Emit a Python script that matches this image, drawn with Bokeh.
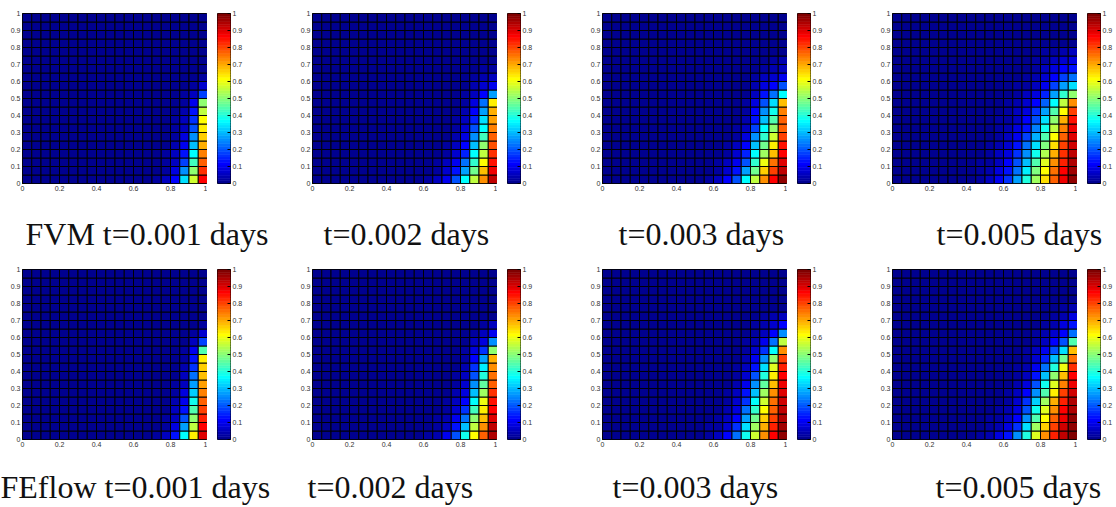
import numpy as np
from bokeh.plotting import figure
from bokeh.layouts import column, row
from bokeh.models import (LinearColorMapper, FixedTicker, ColumnDataSource,
                          CustomJSTickFormatter)
from bokeh.core.properties import value
from bokeh.embed import file_html
from bokeh.resources import INLINE

# ---------------------------------------------------------------------------
# Concentration on a 20 x 20 grid over the unit square.
# Each table lists rows from y = 0 upwards; every row holds the values of the
# right-most cells (ending at x = 1).  Cells not listed are zero.
# ---------------------------------------------------------------------------
N_CELLS = 20
X_TICKS = [0, 0.2, 0.4, 0.6, 0.8, 1]
Y_TICKS = [0, 0.1, 0.2, 0.3, 0.4, 0.5, 0.6, 0.7, 0.8, 0.9, 1]
CBAR_TICKS = [0, 0.1, 0.2, 0.3, 0.4, 0.5, 0.6, 0.7, 0.8, 0.9, 1]

fvm_t001 = [
    [0.02, 0.05, 0.12, 0.33, 0.57, 0.87],
    [0.01, 0.03, 0.08, 0.25, 0.50, 0.82],
    [0.00, 0.02, 0.06, 0.18, 0.43, 0.78],
    [0.00, 0.02, 0.05, 0.13, 0.37, 0.74],
    [0.00, 0.01, 0.04, 0.10, 0.31, 0.70],
    [0.00, 0.01, 0.03, 0.08, 0.25, 0.67],
    [0.00, 0.00, 0.02, 0.06, 0.20, 0.64],
    [0.00, 0.00, 0.02, 0.05, 0.16, 0.61],
    [0.00, 0.00, 0.01, 0.04, 0.13, 0.56],
    [0.00, 0.00, 0.01, 0.03, 0.10, 0.51],
    [0.00, 0.00, 0.00, 0.02, 0.05, 0.18],
    [0.00, 0.00, 0.00, 0.01, 0.02, 0.07],
    [0.00, 0.00, 0.00, 0.00, 0.01, 0.03],
]

fvm_t002 = [
    [0.02, 0.05, 0.10, 0.20, 0.36, 0.55, 0.73, 0.93],
    [0.01, 0.03, 0.07, 0.14, 0.28, 0.47, 0.68, 0.88],
    [0.00, 0.02, 0.05, 0.10, 0.22, 0.42, 0.62, 0.85],
    [0.00, 0.01, 0.03, 0.07, 0.15, 0.36, 0.55, 0.82],
    [0.00, 0.00, 0.02, 0.05, 0.12, 0.30, 0.50, 0.79],
    [0.00, 0.00, 0.01, 0.04, 0.09, 0.25, 0.43, 0.77],
    [0.00, 0.00, 0.01, 0.03, 0.07, 0.20, 0.37, 0.74],
    [0.00, 0.00, 0.00, 0.02, 0.05, 0.15, 0.33, 0.71],
    [0.00, 0.00, 0.00, 0.01, 0.04, 0.12, 0.28, 0.69],
    [0.00, 0.00, 0.00, 0.01, 0.03, 0.09, 0.22, 0.63],
    [0.00, 0.00, 0.00, 0.00, 0.02, 0.06, 0.12, 0.27],
    [0.00, 0.00, 0.00, 0.00, 0.01, 0.04, 0.07, 0.10],
    [0.00, 0.00, 0.00, 0.00, 0.00, 0.02, 0.04, 0.05],
    [0.00, 0.00, 0.00, 0.00, 0.00, 0.01, 0.02, 0.03],
]

fvm_t003 = [
    [0.02, 0.05, 0.12, 0.20, 0.36, 0.55, 0.73, 0.86, 0.97],
    [0.01, 0.03, 0.07, 0.14, 0.28, 0.48, 0.66, 0.80, 0.93],
    [0.00, 0.02, 0.05, 0.10, 0.20, 0.42, 0.60, 0.75, 0.90],
    [0.00, 0.01, 0.03, 0.07, 0.15, 0.36, 0.53, 0.68, 0.87],
    [0.00, 0.00, 0.02, 0.05, 0.11, 0.30, 0.47, 0.63, 0.85],
    [0.00, 0.00, 0.01, 0.03, 0.08, 0.25, 0.42, 0.57, 0.81],
    [0.00, 0.00, 0.00, 0.02, 0.06, 0.18, 0.36, 0.50, 0.78],
    [0.00, 0.00, 0.00, 0.01, 0.04, 0.14, 0.30, 0.44, 0.77],
    [0.00, 0.00, 0.00, 0.00, 0.03, 0.11, 0.25, 0.38, 0.74],
    [0.00, 0.00, 0.00, 0.00, 0.02, 0.09, 0.20, 0.33, 0.68],
    [0.00, 0.00, 0.00, 0.00, 0.01, 0.06, 0.13, 0.22, 0.37],
    [0.00, 0.00, 0.00, 0.00, 0.00, 0.04, 0.08, 0.12, 0.20],
    [0.00, 0.00, 0.00, 0.00, 0.00, 0.02, 0.05, 0.07, 0.10],
    [0.00, 0.00, 0.00, 0.00, 0.00, 0.01, 0.03, 0.04, 0.06],
    [0.00, 0.00, 0.00, 0.00, 0.00, 0.00, 0.01, 0.02, 0.04],
]

fvm_t005 = [
    [0.03, 0.05, 0.10, 0.17, 0.27, 0.40, 0.53, 0.65, 0.77, 0.88, 0.97],
    [0.02, 0.04, 0.08, 0.14, 0.23, 0.35, 0.49, 0.62, 0.75, 0.86, 0.96],
    [0.02, 0.03, 0.06, 0.11, 0.19, 0.30, 0.44, 0.58, 0.72, 0.84, 0.95],
    [0.01, 0.03, 0.05, 0.09, 0.16, 0.26, 0.39, 0.54, 0.69, 0.82, 0.93],
    [0.00, 0.02, 0.04, 0.07, 0.13, 0.22, 0.34, 0.49, 0.65, 0.80, 0.92],
    [0.00, 0.01, 0.03, 0.06, 0.10, 0.18, 0.29, 0.44, 0.61, 0.77, 0.90],
    [0.00, 0.01, 0.02, 0.04, 0.08, 0.14, 0.24, 0.39, 0.56, 0.74, 0.88],
    [0.00, 0.00, 0.02, 0.03, 0.06, 0.11, 0.20, 0.33, 0.50, 0.69, 0.85],
    [0.00, 0.00, 0.01, 0.02, 0.05, 0.09, 0.16, 0.27, 0.44, 0.62, 0.81],
    [0.00, 0.00, 0.00, 0.02, 0.04, 0.07, 0.12, 0.21, 0.36, 0.55, 0.73],
    [0.00, 0.00, 0.00, 0.01, 0.03, 0.05, 0.09, 0.15, 0.27, 0.42, 0.50],
    [0.00, 0.00, 0.00, 0.00, 0.02, 0.03, 0.06, 0.10, 0.18, 0.28, 0.33],
    [0.00, 0.00, 0.00, 0.00, 0.01, 0.02, 0.04, 0.07, 0.12, 0.18, 0.22],
    [0.00, 0.00, 0.00, 0.00, 0.00, 0.01, 0.03, 0.05, 0.08, 0.11, 0.13],
    [0.00, 0.00, 0.00, 0.00, 0.00, 0.00, 0.02, 0.03, 0.05, 0.07, 0.08],
    [0.00, 0.00, 0.00, 0.00, 0.00, 0.00, 0.01, 0.02, 0.03, 0.04, 0.05],
]

feflow_t001 = [
    [0.02, 0.05, 0.13, 0.37, 0.64, 0.90],
    [0.01, 0.03, 0.09, 0.27, 0.56, 0.87],
    [0.00, 0.02, 0.06, 0.20, 0.50, 0.84],
    [0.00, 0.01, 0.05, 0.14, 0.44, 0.80],
    [0.00, 0.01, 0.04, 0.10, 0.38, 0.77],
    [0.00, 0.00, 0.03, 0.08, 0.32, 0.74],
    [0.00, 0.00, 0.02, 0.06, 0.27, 0.71],
    [0.00, 0.00, 0.01, 0.05, 0.22, 0.68],
    [0.00, 0.00, 0.01, 0.04, 0.17, 0.66],
    [0.00, 0.00, 0.00, 0.03, 0.13, 0.64],
    [0.00, 0.00, 0.00, 0.02, 0.10, 0.45],
    [0.00, 0.00, 0.00, 0.01, 0.05, 0.18],
    [0.00, 0.00, 0.00, 0.00, 0.03, 0.07],
    [0.00, 0.00, 0.00, 0.00, 0.01, 0.03],
]

feflow_t002 = [
    [0.02, 0.04, 0.10, 0.20, 0.38, 0.62, 0.77, 0.95],
    [0.01, 0.03, 0.06, 0.13, 0.30, 0.55, 0.73, 0.93],
    [0.00, 0.02, 0.04, 0.10, 0.22, 0.50, 0.68, 0.90],
    [0.00, 0.01, 0.03, 0.07, 0.16, 0.43, 0.64, 0.87],
    [0.00, 0.00, 0.02, 0.05, 0.12, 0.37, 0.60, 0.85],
    [0.00, 0.00, 0.01, 0.04, 0.09, 0.30, 0.53, 0.82],
    [0.00, 0.00, 0.01, 0.03, 0.07, 0.25, 0.46, 0.78],
    [0.00, 0.00, 0.00, 0.02, 0.05, 0.20, 0.40, 0.76],
    [0.00, 0.00, 0.00, 0.01, 0.04, 0.16, 0.35, 0.73],
    [0.00, 0.00, 0.00, 0.01, 0.03, 0.12, 0.27, 0.70],
    [0.00, 0.00, 0.00, 0.00, 0.02, 0.08, 0.16, 0.50],
    [0.00, 0.00, 0.00, 0.00, 0.01, 0.05, 0.08, 0.25],
    [0.00, 0.00, 0.00, 0.00, 0.00, 0.03, 0.05, 0.10],
    [0.00, 0.00, 0.00, 0.00, 0.00, 0.01, 0.03, 0.05],
]

feflow_t003 = [
    [0.03, 0.05, 0.11, 0.22, 0.38, 0.57, 0.73, 0.87, 0.98],
    [0.02, 0.03, 0.07, 0.16, 0.33, 0.52, 0.70, 0.84, 0.96],
    [0.01, 0.02, 0.05, 0.12, 0.27, 0.47, 0.66, 0.81, 0.95],
    [0.00, 0.01, 0.04, 0.09, 0.22, 0.42, 0.62, 0.78, 0.93],
    [0.00, 0.00, 0.03, 0.07, 0.17, 0.36, 0.57, 0.75, 0.92],
    [0.00, 0.00, 0.02, 0.05, 0.13, 0.30, 0.52, 0.72, 0.90],
    [0.00, 0.00, 0.01, 0.04, 0.10, 0.25, 0.46, 0.68, 0.88],
    [0.00, 0.00, 0.00, 0.03, 0.07, 0.19, 0.40, 0.64, 0.86],
    [0.00, 0.00, 0.00, 0.02, 0.05, 0.14, 0.33, 0.58, 0.84],
    [0.00, 0.00, 0.00, 0.01, 0.04, 0.10, 0.25, 0.50, 0.80],
    [0.00, 0.00, 0.00, 0.00, 0.03, 0.07, 0.17, 0.37, 0.72],
    [0.00, 0.00, 0.00, 0.00, 0.02, 0.04, 0.10, 0.22, 0.55],
    [0.00, 0.00, 0.00, 0.00, 0.01, 0.03, 0.06, 0.12, 0.25],
    [0.00, 0.00, 0.00, 0.00, 0.00, 0.02, 0.04, 0.07, 0.12],
    [0.00, 0.00, 0.00, 0.00, 0.00, 0.01, 0.02, 0.04, 0.05],
]

feflow_t005 = [
    [0.02, 0.04, 0.08, 0.14, 0.26, 0.40, 0.58, 0.72, 0.83, 0.93, 0.99],
    [0.01, 0.03, 0.04, 0.08, 0.17, 0.33, 0.52, 0.67, 0.80, 0.91, 0.98],
    [0.00, 0.02, 0.03, 0.05, 0.12, 0.26, 0.45, 0.62, 0.77, 0.89, 0.97],
    [0.00, 0.01, 0.02, 0.04, 0.09, 0.20, 0.39, 0.58, 0.73, 0.87, 0.95],
    [0.00, 0.00, 0.01, 0.03, 0.07, 0.16, 0.32, 0.52, 0.69, 0.84, 0.94],
    [0.00, 0.00, 0.01, 0.02, 0.05, 0.12, 0.26, 0.45, 0.64, 0.80, 0.92],
    [0.00, 0.00, 0.00, 0.01, 0.04, 0.09, 0.20, 0.38, 0.58, 0.74, 0.89],
    [0.00, 0.00, 0.00, 0.01, 0.03, 0.06, 0.14, 0.30, 0.50, 0.68, 0.86],
    [0.00, 0.00, 0.00, 0.00, 0.02, 0.04, 0.10, 0.22, 0.40, 0.60, 0.82],
    [0.00, 0.00, 0.00, 0.00, 0.01, 0.03, 0.07, 0.15, 0.30, 0.47, 0.75],
    [0.00, 0.00, 0.00, 0.00, 0.00, 0.02, 0.05, 0.10, 0.20, 0.33, 0.68],
    [0.00, 0.00, 0.00, 0.00, 0.00, 0.01, 0.03, 0.06, 0.12, 0.20, 0.45],
    [0.00, 0.00, 0.00, 0.00, 0.00, 0.00, 0.02, 0.04, 0.07, 0.12, 0.22],
    [0.00, 0.00, 0.00, 0.00, 0.00, 0.00, 0.01, 0.02, 0.04, 0.08, 0.13],
    [0.00, 0.00, 0.00, 0.00, 0.00, 0.00, 0.00, 0.01, 0.02, 0.04, 0.08],
    [0.00, 0.00, 0.00, 0.00, 0.00, 0.00, 0.00, 0.00, 0.01, 0.02, 0.04],
]

TOP_TABLES = [fvm_t001, fvm_t002, fvm_t003, fvm_t005]
BOTTOM_TABLES = [feflow_t001, feflow_t002, feflow_t003, feflow_t005]
TOP_CAPTIONS = ["FVM t=0.001 days", "t=0.002 days", "t=0.003 days", "t=0.005 days"]
BOTTOM_CAPTIONS = ["FEflow t=0.001 days", "t=0.002 days", "t=0.003 days", "t=0.005 days"]


def jet_palette(m=64):
    """MATLAB-style jet colormap with m entries."""
    n = int(np.ceil(m / 4))
    u = np.concatenate([np.arange(1, n + 1) / n, np.ones(n - 1), np.arange(n, 0, -1) / n])
    g = int(np.ceil(n / 2)) - (1 if m % 4 == 1 else 0) + np.arange(1, len(u) + 1)
    rgb = np.zeros((m, 3))
    for ch, idx in enumerate((g + n, g, g - n)):
        ok = (idx >= 1) & (idx <= m)
        rgb[idx[ok] - 1, ch] = u[ok]
    return ["#%02x%02x%02x" % tuple(int(round(c * 255)) for c in r) for r in rgb]


JET = jet_palette(64)
mapper = LinearColorMapper(palette=JET, low=0, high=1)
tick_fmt = CustomJSTickFormatter(code="return String(Math.round(tick * 10) / 10);")

# layout (pixels)
FRAME_W, FRAME_H = 185, 170
BORDER_LEFT, BORDER_TOP, BORDER_BOTTOM = 22, 13, 17
CBAR_GAP, CBAR_W = 10, 13
COL_WIDTHS = [290, 290, 290, 246]
CAPTION_STRIP_H = [56, 51]
CAPTION_FONT_PX = 32
# vertical anchor of the caption text ("middle") inside each strip
CAPTION_MID_Y = [33, 30]
TOP_CAPTION_LEFT = [25, 323, 618, 936]
BOTTOM_CAPTION_LEFT = [0, 307, 612, 935]
PAGE_W = sum(COL_WIDTHS)
LABEL_FONT = "Liberation Sans"
CAPTION_FONT = "Liberation Serif"


def style_axis(ax):
    ax.formatter = tick_fmt
    ax.axis_line_color = None
    ax.major_tick_in = 3
    ax.major_tick_out = 0
    ax.major_tick_line_color = "black"
    ax.minor_tick_line_color = None
    ax.major_label_text_font = LABEL_FONT
    ax.major_label_text_font_size = "7px"
    ax.major_label_text_color = "#333333"
    ax.major_label_standoff = 2


def grid_source(table):
    grid = np.zeros((N_CELLS, N_CELLS))
    for j, vals in enumerate(table):
        grid[j, N_CELLS - len(vals):] = vals
    edges = np.linspace(0, 1, N_CELLS + 1)
    jj, ii = np.meshgrid(np.arange(N_CELLS), np.arange(N_CELLS), indexing="ij")
    jj, ii = jj.ravel(), ii.ravel()
    return ColumnDataSource(dict(left=edges[ii], right=edges[ii + 1],
                                 bottom=edges[jj], top=edges[jj + 1],
                                 c=grid.ravel()))


def heatmap(table):
    p = figure(frame_width=FRAME_W, frame_height=FRAME_H,
               x_range=(0, 1), y_range=(0, 1),
               min_border_left=BORDER_LEFT, min_border_top=BORDER_TOP,
               min_border_right=0, min_border_bottom=BORDER_BOTTOM,
               output_backend="svg", toolbar_location=None,
               background_fill_color="white", border_fill_color="white")
    p.quad(left="left", right="right", bottom="bottom", top="top",
           source=grid_source(table),
           fill_color={"field": "c", "transform": mapper},
           line_color="black", line_width=1, line_alpha=0.95)
    p.grid.visible = False
    p.outline_line_color = "black"
    p.outline_line_width = 1
    p.xaxis.ticker = FixedTicker(ticks=X_TICKS)
    p.yaxis.ticker = FixedTicker(ticks=Y_TICKS)
    style_axis(p.xaxis[0])
    style_axis(p.yaxis[0])
    return p


def colorbar(total_w):
    right = total_w - BORDER_LEFT - FRAME_W - CBAR_GAP - CBAR_W
    p = figure(frame_width=CBAR_W, frame_height=FRAME_H,
               x_range=(0, 1), y_range=(0, 1),
               x_axis_location=None, y_axis_location="right",
               min_border_left=CBAR_GAP, min_border_top=BORDER_TOP,
               min_border_right=right, min_border_bottom=BORDER_BOTTOM,
               output_backend="svg", toolbar_location=None,
               border_fill_color="white")
    n = len(JET)
    lev = np.arange(n)
    src = ColumnDataSource(dict(bottom=lev / n, top=(lev + 1) / n,
                                v=(lev + 0.5) / n))
    band = {"field": "v", "transform": mapper}
    p.quad(left=0, right=1, bottom="bottom", top="top", source=src,
           fill_color=band, line_color=band, line_width=0.6)
    p.grid.visible = False
    p.outline_line_color = "black"
    p.outline_line_width = 1
    p.yaxis.ticker = FixedTicker(ticks=CBAR_TICKS)
    style_axis(p.yaxis[0])
    return p


def caption_strip(texts, lefts, height, mid_y):
    p = figure(width=PAGE_W, height=height,
               x_range=(0, PAGE_W), y_range=(height, 0),
               x_axis_location=None, y_axis_location=None,
               min_border=0, output_backend="svg", toolbar_location=None,
               border_fill_color="white", background_fill_color="white")
    p.outline_line_color = None
    p.grid.visible = False
    p.text(x=lefts, y=[mid_y] * len(texts), text=texts,
           text_align="left", text_baseline="middle",
           text_font=value(CAPTION_FONT),
           text_font_size=f"{CAPTION_FONT_PX}px",
           text_color="#111111")
    return p


def panel_row(tables):
    figs = []
    for t, w in zip(tables, COL_WIDTHS):
        figs.append(heatmap(t))
        figs.append(colorbar(w))
    return row(*figs, spacing=0)


layout = column(
    panel_row(TOP_TABLES),
    caption_strip(TOP_CAPTIONS, TOP_CAPTION_LEFT, CAPTION_STRIP_H[0], CAPTION_MID_Y[0]),
    panel_row(BOTTOM_TABLES),
    caption_strip(BOTTOM_CAPTIONS, BOTTOM_CAPTION_LEFT, CAPTION_STRIP_H[1], CAPTION_MID_Y[1]),
    spacing=0,
)

with open("out.html", "w") as f:
    f.write(file_html(layout, INLINE, title="Concentration fields"))
